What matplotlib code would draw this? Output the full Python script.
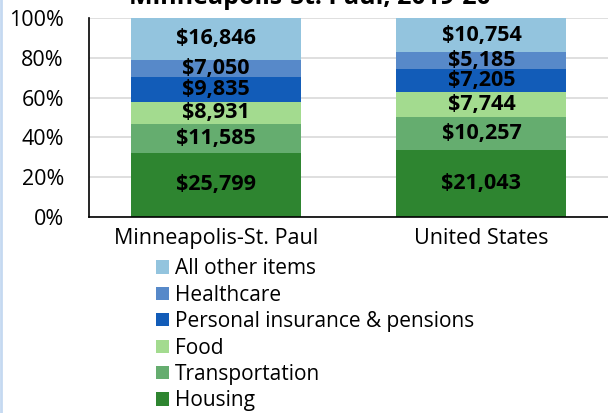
import numpy as np
import matplotlib
matplotlib.use('Agg')
import matplotlib.pyplot as plt
from matplotlib.patches import Patch

plt.rcParams['font.family'] = ['Open Sans', 'DejaVu Sans']

regions = ['Minneapolis-St. Paul', 'United States']
categories = ['Housing', 'Transportation', 'Food',
              'Personal insurance & pensions', 'Healthcare', 'All other items']
housing = [25799, 21043]
transportation = [11585, 10257]
food = [8931, 7744]
insurance = [9835, 7205]
healthcare = [7050, 5185]
other = [16846, 10754]
colors = ['#2e8530', '#65ad6f', '#a3db8f', '#125cb8', '#5789c9', '#93c4de']

series = np.array([housing, transportation, food, insurance, healthcare, other], dtype=float)
shares = series / series.sum(axis=0) * 100

fig = plt.figure(figsize=(6.08, 4.13), dpi=100)
ax = fig.add_axes([89 / 608, 1 - 217 / 413, 520 / 608, 199 / 413])

x = np.arange(len(regions))
bottom = np.zeros(len(regions))
for i, cat in enumerate(categories):
    ax.bar(x, shares[i], 0.64, bottom=bottom, color=colors[i], label=cat, zorder=2)
    for j in range(len(regions)):
        ax.text(x[j], bottom[j] + shares[i][j] / 2, f'${int(series[i][j]):,}',
                ha='center', va='center', fontsize=15.5, fontweight='bold', zorder=3)
    bottom += shares[i]

ax.set_xlim(-0.477, 1.48)
ax.set_ylim(0, 100)
ax.set_yticks(range(0, 101, 20))
ax.set_yticklabels([f'{v}%' for v in range(0, 101, 20)], fontsize=15.5)
ax.set_xticks(x)
ax.set_xticklabels(regions, fontsize=15.5)
ax.tick_params(axis='y', length=0, pad=18)
ax.tick_params(axis='x', length=0, pad=8)
ax.yaxis.grid(True, color='#d9d9d9', linewidth=1.2, zorder=0)
for s in ['top', 'right']:
    ax.spines[s].set_visible(False)
ax.spines['left'].set_linewidth(1.2)
ax.spines['bottom'].set_linewidth(1.2)

fig.text(310 / 608, 1 - 4 / 413, 'Minneapolis-St. Paul, 2019-20', ha='center', va='baseline',
         fontsize=18, fontweight='bold')

handles = [Patch(facecolor=colors[i], label=categories[i]) for i in range(len(categories) - 1, -1, -1)]
fig.legend(handles=handles, loc='upper left', bbox_to_anchor=(148 / 608, 1 - 250 / 413),
           frameon=False, fontsize=15, handlelength=0.6, handleheight=0.6,
           handletextpad=0.3, labelspacing=0.26, borderaxespad=0)

fig.add_artist(plt.Line2D([1 / 608, 1 / 608], [0, 1], color='#c5d9f1', linewidth=2,
                          transform=fig.transFigure))

fig.savefig('out.png', dpi=100, facecolor='white')
